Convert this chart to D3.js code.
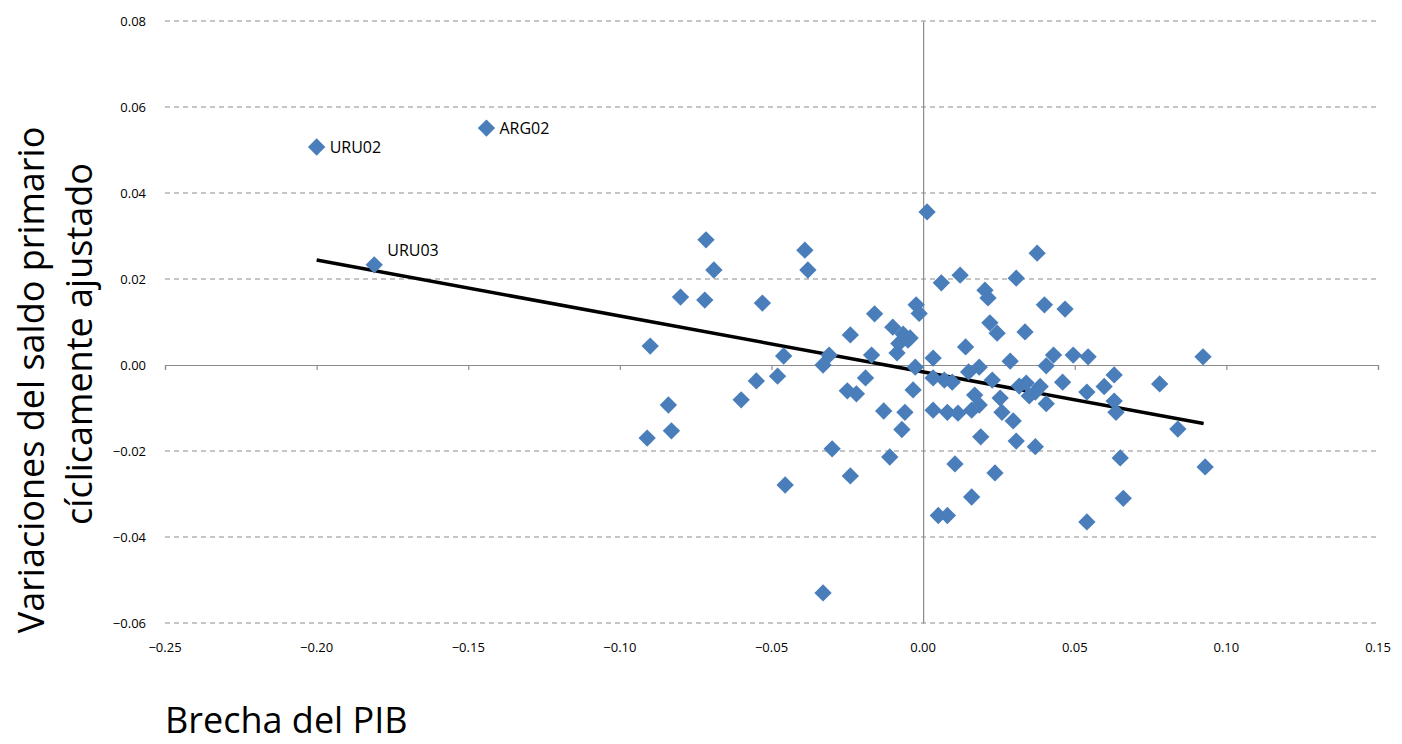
<!DOCTYPE html>
<html>
  <head>
    <script src="https://d3js.org/d3.v7.min.js"></script>
    <style>
      body { margin: 0; background: #fff; }
      text { font-family: "Open Sans", sans-serif; fill: #000; }
    </style>
  </head>
  <body>
    <script>
      // Brecha del PIB (x) vs variaciones del saldo primario (y)
      var gap = [-0.200, -0.144, -0.181, -0.090, -0.091, -0.084, -0.083, -0.080, -0.0716, -0.069,
        -0.072, -0.060, -0.055, -0.053, -0.048, -0.046, -0.0455, -0.039, -0.038, -0.033,
        -0.031, -0.030, -0.033, -0.024, -0.025, -0.022, -0.024, -0.016, -0.019, -0.017,
        -0.013, -0.011, -0.010, -0.0086, -0.008, -0.0066, -0.006, -0.007, -0.005, -0.0043,
        -0.0026, -0.0033, -0.0023, -0.0013, 0.0013, 0.0033, 0.0033, 0.0033, 0.006, 0.005,
        0.008, 0.007, 0.0096, 0.008, 0.0105, 0.0122, 0.0115, 0.014, 0.015, 0.016,
        0.016, 0.017, 0.0185, 0.0185, 0.019, 0.0204, 0.0214, 0.022, 0.0244, 0.0228,
        0.0237, 0.0254, 0.026, 0.0287, 0.0297, 0.0307, 0.0307, 0.0317, 0.0336, 0.034,
        0.035, 0.037, 0.037, 0.0376, 0.0386, 0.040, 0.0406, 0.0406, 0.043, 0.046,
        0.0468, 0.0495, 0.054, 0.054, 0.0544, 0.0597, 0.063, 0.063, 0.0636, 0.065,
        0.066, 0.078, 0.084, 0.0923, 0.093];
      var balance = [0.0507, 0.0551, 0.0233, 0.0044, -0.017, -0.0093, -0.0153, 0.0158, 0.0291, 0.0221,
        0.0151, -0.0081, -0.0037, 0.0144, -0.0026, 0.0021, -0.0279, 0.0267, 0.0221, 0.000,
        0.0023, -0.0195, -0.053, 0.007, -0.006, -0.0067, -0.0258, 0.0119, -0.003, 0.0023,
        -0.0107, -0.0214, 0.0088, 0.0028, 0.005, 0.0072, -0.011, -0.015, 0.0058, 0.0063,
        -0.0005, -0.0058, 0.014, 0.012, 0.0356, 0.0016, -0.003, -0.0105, 0.0191, -0.035,
        -0.035, -0.0035, -0.004, -0.011, -0.023, 0.0209, -0.0112, 0.0042, -0.0016, -0.0307,
        -0.0105, -0.007, -0.0005, -0.0093, -0.0167, 0.0174, 0.0156, 0.0098, 0.0074, -0.0035,
        -0.0251, -0.0077, -0.011, 0.0009, -0.013, -0.0177, 0.0202, -0.0049, 0.0077, -0.0042,
        -0.0072, -0.0063, -0.019, 0.026, -0.005, 0.014, -0.0002, -0.009, 0.0023, -0.004,
        0.013, 0.0023, -0.0063, -0.0365, 0.0019, -0.005, -0.0023, -0.0084, -0.011, -0.0216,
        -0.031, -0.0044, -0.0149, 0.0019, -0.0237];
      var labels = {0: "URU02", 1: "ARG02", 2: "URU03"};
      var xTicks = [-0.25, -0.20, -0.15, -0.10, -0.05, 0.00, 0.05, 0.10, 0.15];
      var yTicks = [-0.06, -0.04, -0.02, 0.00, 0.02, 0.04, 0.06, 0.08];
      // linear trend
      var trendSlope = -0.130, trendIntercept = -0.0016;
      var trendX = [-0.200, 0.0925];

      var W = 1402, H = 744;
      var svg = d3.select("body").append("svg").attr("width", W).attr("height", H);
      var x = d3.scaleLinear().domain([-0.25, 0.15]).range([165, 1378]);
      var y = d3.scaleLinear().domain([-0.06, 0.08]).range([623, 21]);

      // dashed gridlines
      svg.selectAll(".grid").data(yTicks.filter(function(d) { return d !== 0; }))
        .enter().append("line")
        .attr("x1", x(-0.25)).attr("x2", x(0.15))
        .attr("y1", function(d) { return y(d); }).attr("y2", function(d) { return y(d); })
        .attr("stroke", "#8c8c8c").attr("stroke-width", 1.2).attr("stroke-dasharray", "5,4");

      // axes through zero
      svg.append("g").attr("transform", "translate(0," + y(0) + ")")
        .call(d3.axisBottom(x).tickValues(xTicks).tickSize(5).tickFormat(""));
      svg.append("g").attr("transform", "translate(" + x(0) + ",0)")
        .call(d3.axisLeft(y).tickValues(yTicks).tickSize(0).tickFormat(""));
      svg.selectAll(".domain, .tick line").attr("stroke", "#8c8c8c").attr("stroke-width", 1.2);

      // tick labels at the edges
      svg.selectAll(".xl").data(xTicks).enter().append("text")
        .attr("x", function(d) { return x(d); }).attr("y", 652)
        .attr("text-anchor", "middle").attr("font-size", 13)
        .text(function(d) { return d3.format(".2f")(d); });
      svg.selectAll(".yl").data(yTicks).enter().append("text")
        .attr("x", 146).attr("y", function(d) { return y(d) + 4.5; })
        .attr("text-anchor", "end").attr("font-size", 13)
        .text(function(d) { return d3.format(".2f")(d); });

      // trend line
      svg.append("line")
        .attr("x1", x(trendX[0])).attr("y1", y(trendIntercept + trendSlope * trendX[0]))
        .attr("x2", x(trendX[1])).attr("y2", y(trendIntercept + trendSlope * trendX[1]))
        .attr("stroke", "#000").attr("stroke-width", 3.5);

      // points
      var pts = gap.map(function(g, i) { return {x: g, y: balance[i], i: i}; });
      svg.selectAll(".pt").data(pts).enter().append("path")
        .attr("d", d3.symbol().type(d3.symbolSquare).size(150))
        .attr("transform", function(d) { return "translate(" + x(d.x) + "," + y(d.y) + ") rotate(45)"; })
        .attr("fill", "#4a7ebb");

      pts.filter(function(d) { return labels[d.i]; }).forEach(function(d) {
        svg.append("text").attr("x", x(d.x) + 13).attr("y", y(d.y) + 6 - (d.i === 2 ? 15 : 0))
          .attr("font-size", 16).text(labels[d.i]);
      });

      // axis titles
      svg.append("text").attr("transform", "translate(44,380) rotate(-90)")
        .attr("text-anchor", "middle").attr("font-size", 36)
        .text("Variaciones del saldo primario");
      svg.append("text").attr("transform", "translate(92,344) rotate(-90)")
        .attr("text-anchor", "middle").attr("font-size", 36)
        .text("cíclicamente ajustado");
      svg.append("text").attr("x", 165).attr("y", 733).attr("font-size", 36).text("Brecha del PIB");
    </script>
  </body>
</html>
